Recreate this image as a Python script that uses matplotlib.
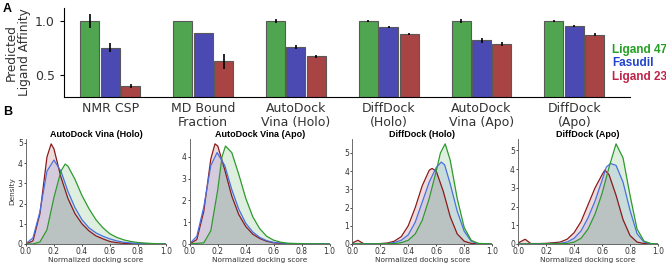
import numpy as np
import matplotlib.pyplot as plt

# top panel: relative affinity per method
methods = ['NMR CSP', 'MD Bound\nFraction', 'AutoDock\nVina (Holo)',
           'DiffDock\n(Holo)', 'AutoDock\nVina (Apo)', 'DiffDock\n(Apo)']
lig47 = [1.0, 1.0, 1.0, 1.0, 1.0, 1.0]
lig47_err = [0.065, 0.003, 0.02, 0.008, 0.02, 0.006]
fasudil = [0.755, 0.888, 0.762, 0.944, 0.82, 0.95]
fasudil_err = [0.04, 0.003, 0.018, 0.01, 0.022, 0.008]
lig23 = [0.398, 0.628, 0.674, 0.879, 0.789, 0.875]
lig23_err = [0.018, 0.07, 0.016, 0.012, 0.016, 0.01]

# bottom panels: density curves, (score, density)
vina_holo_47 = [(0, 0), (0.05, 0), (0.1, 0.1), (0.15, 0.7), (0.2, 2.3), (0.25, 3.6), (0.28, 3.95),
                (0.3, 3.85), (0.35, 3.2), (0.4, 2.4), (0.45, 1.75), (0.5, 1.2), (0.55, 0.8), (0.6, 0.5),
                (0.65, 0.32), (0.7, 0.2), (0.75, 0.12), (0.8, 0.07), (0.9, 0.02), (1.0, 0)]
vina_holo_fas = [(0, 0.02), (0.05, 0.3), (0.1, 1.6), (0.15, 3.6), (0.2, 4.15), (0.25, 3.6), (0.3, 2.6),
                 (0.35, 1.8), (0.4, 1.2), (0.45, 0.8), (0.5, 0.55), (0.55, 0.38), (0.6, 0.25),
                 (0.65, 0.15), (0.7, 0.08), (0.8, 0.02), (1.0, 0)]
vina_holo_23 = [(0, 0), (0.05, 0.15), (0.1, 1.5), (0.15, 4.3), (0.18, 4.95), (0.2, 4.7), (0.25, 3.3),
                (0.3, 2.25), (0.35, 1.5), (0.4, 1.0), (0.45, 0.65), (0.5, 0.4), (0.55, 0.25),
                (0.6, 0.12), (0.65, 0.06), (0.7, 0.03), (0.8, 0), (1.0, 0)]

vina_apo_47 = [(0, 0), (0.1, 0.05), (0.15, 0.6), (0.2, 2.5), (0.23, 4.0), (0.255, 4.5), (0.3, 4.2),
               (0.35, 3.2), (0.4, 2.1), (0.45, 1.25), (0.5, 0.7), (0.55, 0.35), (0.6, 0.17),
               (0.65, 0.08), (0.7, 0.03), (0.8, 0.01), (1.0, 0)]
vina_apo_fas = [(0, 0.02), (0.05, 0.35), (0.1, 1.7), (0.15, 3.6), (0.195, 4.2), (0.25, 3.6), (0.3, 2.5),
                (0.35, 1.6), (0.4, 0.95), (0.45, 0.55), (0.5, 0.3), (0.55, 0.15), (0.6, 0.07),
                (0.7, 0.02), (1.0, 0)]
vina_apo_23 = [(0, 0), (0.05, 0.2), (0.1, 1.5), (0.15, 3.9), (0.18, 4.6), (0.2, 4.5), (0.25, 3.4),
               (0.3, 2.2), (0.35, 1.35), (0.4, 0.8), (0.45, 0.45), (0.5, 0.25), (0.55, 0.12),
               (0.6, 0.05), (0.7, 0.01), (1.0, 0)]

dd_holo_47 = [(0, 0), (0.3, 0.02), (0.35, 0.07), (0.4, 0.2), (0.45, 0.55), (0.5, 1.3), (0.55, 2.5),
              (0.6, 4.0), (0.63, 5.0), (0.664, 5.5), (0.7, 4.6), (0.75, 2.5), (0.8, 0.9), (0.85, 0.2),
              (0.9, 0.03), (1.0, 0)]
dd_holo_fas = [(0, 0), (0.25, 0.02), (0.3, 0.08), (0.35, 0.2), (0.4, 0.5), (0.45, 1.2), (0.5, 2.3),
               (0.55, 3.4), (0.6, 4.2), (0.636, 4.5), (0.66, 4.35), (0.7, 3.3), (0.75, 1.8), (0.8, 0.7),
               (0.85, 0.15), (0.9, 0.02), (1.0, 0)]
dd_holo_23 = [(0, 0.05), (0.04, 0.2), (0.08, 0.02), (0.1, 0), (0.2, 0.02), (0.25, 0.05), (0.3, 0.15),
              (0.35, 0.4), (0.4, 1.0), (0.45, 2.0), (0.5, 3.2), (0.55, 4.05), (0.57, 4.15), (0.6, 4.0),
              (0.65, 2.9), (0.7, 1.5), (0.75, 0.55), (0.8, 0.15), (0.85, 0.03), (0.9, 0), (1.0, 0)]

dd_apo_47 = [(0, 0), (0.35, 0.02), (0.4, 0.1), (0.45, 0.3), (0.5, 0.8), (0.55, 1.6), (0.6, 2.7),
             (0.65, 4.1), (0.7, 5.35), (0.75, 4.6), (0.8, 2.6), (0.85, 0.8), (0.9, 0.15), (0.95, 0.02),
             (1.0, 0)]
dd_apo_fas = [(0, 0), (0.3, 0.03), (0.35, 0.1), (0.4, 0.3), (0.45, 0.7), (0.5, 1.4), (0.55, 2.3),
              (0.6, 3.4), (0.63, 4.1), (0.66, 4.3), (0.7, 4.2), (0.75, 3.3), (0.8, 1.8), (0.85, 0.55),
              (0.9, 0.1), (0.95, 0.01), (1.0, 0)]
dd_apo_23 = [(0, 0.05), (0.05, 0.25), (0.09, 0.02), (0.15, 0.02), (0.2, 0.03), (0.3, 0.1), (0.35, 0.25),
             (0.4, 0.6), (0.45, 1.2), (0.5, 2.1), (0.55, 3.0), (0.6, 3.7), (0.62, 3.95), (0.65, 3.7),
             (0.7, 2.6), (0.75, 1.3), (0.8, 0.45), (0.85, 0.1), (0.9, 0.02), (1.0, 0)]

panel_titles = ['AutoDock Vina (Holo)', 'AutoDock Vina (Apo)', 'DiffDock (Holo)', 'DiffDock (Apo)']
panel_curves = [(vina_holo_23, vina_holo_fas, vina_holo_47),
                (vina_apo_23, vina_apo_fas, vina_apo_47),
                (dd_holo_23, dd_holo_fas, dd_holo_47),
                (dd_apo_23, dd_apo_fas, dd_apo_47)]

bar_cols = ['#50a550', '#4a4ab2', '#a84444']
line_cols = ['#8b1a1a', '#4a70e0', '#2e9a2e']  # ligand 23, fasudil, ligand 47
bold_font = ['Liberation Sans', 'DejaVu Sans']

fig = plt.figure(figsize=(6.66, 2.64), dpi=100)

# ---- A: bars
ax = fig.add_axes([0.096, 0.633, 0.85, 0.337])
x = np.arange(len(methods))
w = 0.205
off = 0.22
for vals, errs, col, dx in [(lig47, lig47_err, bar_cols[0], -off),
                            (fasudil, fasudil_err, bar_cols[1], 0),
                            (lig23, lig23_err, bar_cols[2], off)]:
    ax.bar(x + dx, vals, width=w, color=col, edgecolor='0.35', linewidth=0.8,
           yerr=errs, error_kw=dict(ecolor='black', elinewidth=1.2, capsize=0))
ax.set_xlim(-0.5, 5.6)
ax.set_ylim(0.3, 1.12)
ax.set_yticks([0.5, 1.0])
ax.set_xticks(x)
ax.set_xticklabels(methods, fontsize=9, color='#333333', linespacing=1.05)
ax.tick_params(axis='x', length=0, pad=4)
ax.tick_params(axis='y', labelsize=9, labelcolor='#333333', length=3)
ax.set_ylabel('Predicted\nLigand Affinity', fontsize=8.7, color='#333333', linespacing=0.95, labelpad=3)
ax.spines['top'].set_visible(False)
ax.spines['right'].set_visible(False)

for txt, col, yy in [('Ligand 47', '#22a022', 0.81), ('Fasudil', '#2244cc', 0.76), ('Ligand 23', '#c0234a', 0.708)]:
    fig.text(0.919, yy, txt, color=col, fontsize=8.5, fontweight='bold', family=bold_font, va='center')

fig.text(0.004, 0.99, 'A', fontsize=9, fontweight='bold', family=bold_font, va='top')
fig.text(0.004, 0.6, 'B', fontsize=9, fontweight='bold', family=bold_font, va='top')

# ---- B: density curves
lefts = [0.039, 0.285, 0.529, 0.778]
for i, (left, title, curves) in enumerate(zip(lefts, panel_titles, panel_curves)):
    bx = fig.add_axes([left, 0.076, 0.21, 0.398])
    ymax = 0
    for pts, col in zip(curves, line_cols):
        px = [p[0] for p in pts]
        py = [p[1] for p in pts]
        bx.fill_between(px, py, color=col, alpha=0.15, linewidth=0)
        bx.plot(px, py, color=col, linewidth=0.9)
        ymax = max(ymax, max(py))
    bx.set_xlim(0, 1)
    bx.set_ylim(0, ymax * 1.05)
    bx.set_xticks([0, 0.2, 0.4, 0.6, 0.8, 1.0])
    bx.tick_params(labelsize=5.5, length=1.5, width=0.5, pad=0.8, labelcolor='#333333')
    bx.set_title(title, fontsize=6.5, fontweight='bold', family=bold_font, pad=1.5)
    bx.set_xlabel('Normalized docking score', fontsize=5.3, color='#333333', labelpad=0.8)
    if i == 0:
        bx.set_ylabel('Density', fontsize=5.3, color='#333333', labelpad=2)
    for s in ['top', 'right']:
        bx.spines[s].set_visible(False)
    for s in ['left', 'bottom']:
        bx.spines[s].set_linewidth(0.6)
        bx.spines[s].set_color('#555555')

fig.savefig('out.png', dpi=100)
